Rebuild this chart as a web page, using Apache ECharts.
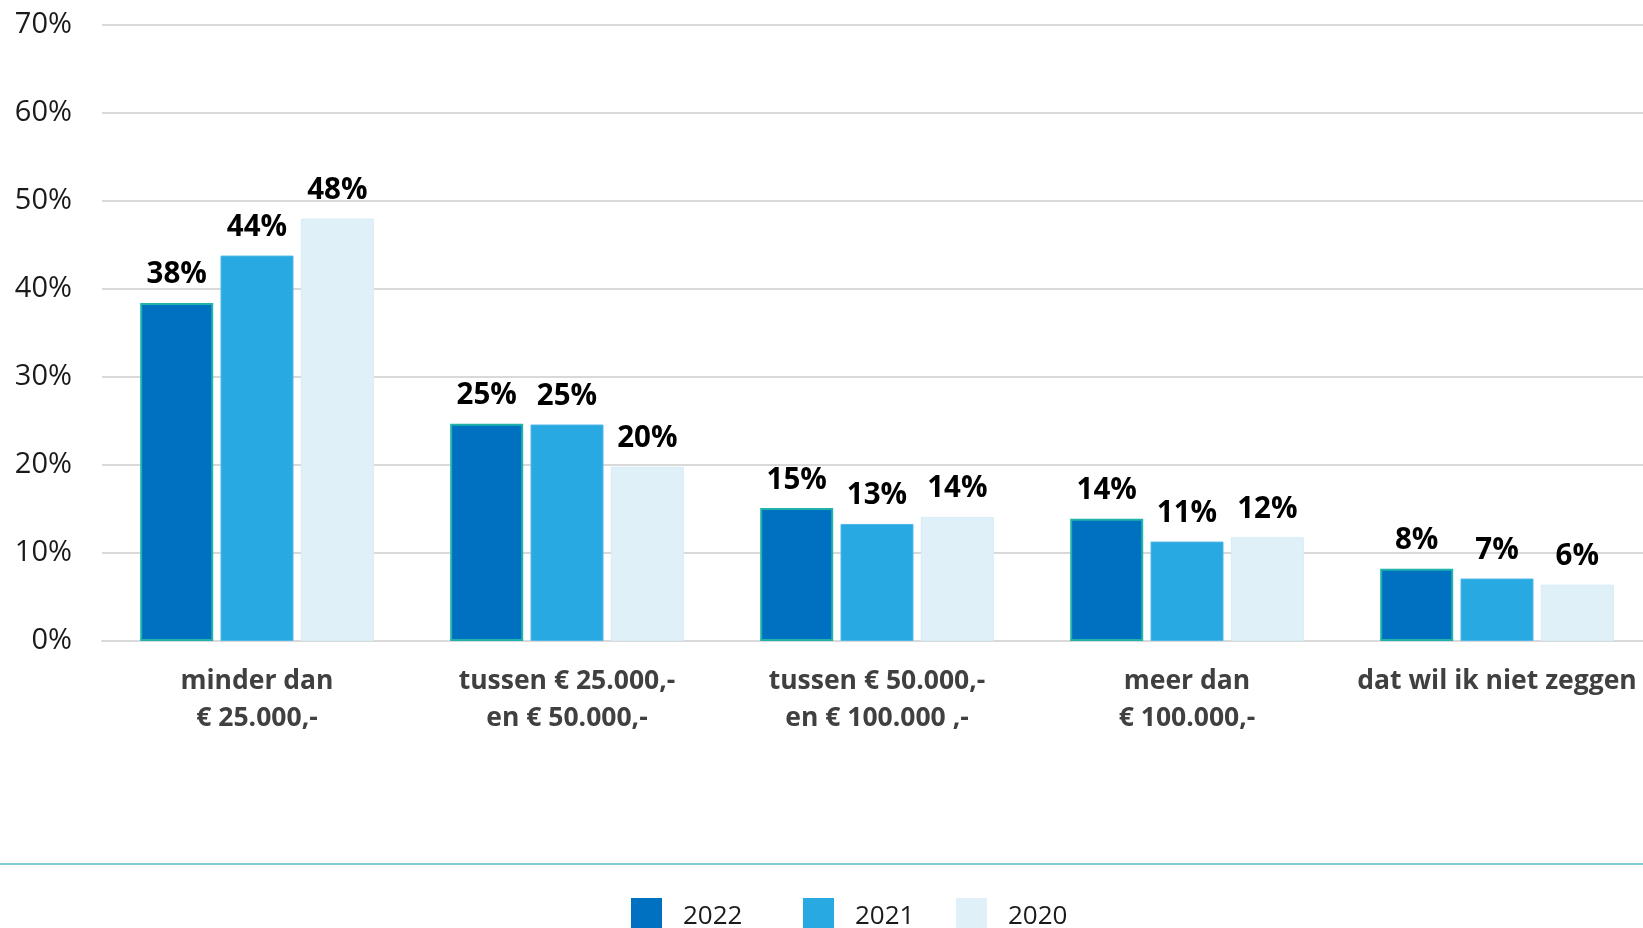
<!DOCTYPE html>
<html>
<head>
<meta charset="utf-8">
<script src="https://cdn.jsdelivr.net/npm/echarts@6/dist/echarts.min.js"></script>
<style>html,body{margin:0;padding:0;background:#fff;}#c{width:1643px;height:928px;}</style>
</head>
<body>
<div id="c"></div>
<script>
const categories = ['minder dan\n€ 25.000,-', 'tussen € 25.000,-\nen € 50.000,-', 'tussen € 50.000,-\nen € 100.000 ,-', 'meer dan\n€ 100.000,-', 'dat wil ik niet zeggen'];
const years = ['2022', '2021', '2020'];
const v2022 = [38.4, 24.7, 15.1, 13.9, 8.2];
const v2021 = [43.8, 24.6, 13.3, 11.3, 7.1];
const v2020 = [48.0, 19.8, 14.1, 11.8, 6.4];
const yTicks = [0, 10, 20, 30, 40, 50, 60, 70];

const FONT = '"Open Sans", "Noto Sans", sans-serif';
const colors = ['#0070c0', '#29a9e1', '#dff0f8'];
const borders = ['#1fb3aa', '#4fb8e8', '#d6ecf6'];
const values = [v2022, v2021, v2020];

const chart = echarts.init(document.getElementById('c'), null, {renderer: 'canvas'});
const legendLeft = [626, 798, 951];

chart.setOption({
  animation: false,
  backgroundColor: '#ffffff',
  textStyle: {fontFamily: FONT},
  grid: {left: 102, right: -9, top: 25, bottom: 287, containLabel: false, outerBoundsMode: 'none'},
  legend: years.map((y, i) => ({
    data: [y],
    left: legendLeft[i],
    top: 893,
    itemWidth: 31,
    itemHeight: 31,
    icon: 'rect',
    itemStyle: {borderWidth: 0},
    formatter: '{t|{name}}',
    textStyle: {
      fontFamily: FONT, fontSize: 26, color: '#1a1a1a',
      rich: {t: {fontFamily: FONT, fontSize: 26, color: '#1a1a1a', padding: [7, 0, 0, 16]}}
    }
  })),
  xAxis: {
    type: 'category',
    data: categories,
    axisTick: {show: false},
    axisLine: {lineStyle: {color: '#d9d9d9', width: 2}},
    axisLabel: {interval: 0, margin: 22, fontFamily: FONT, fontSize: 26.5, fontWeight: 'bold', color: '#404040', lineHeight: 37}
  },
  yAxis: {
    type: 'value',
    min: yTicks[0],
    max: yTicks[yTicks.length - 1],
    interval: 10,
    axisLine: {show: false},
    axisTick: {show: false},
    splitLine: {lineStyle: {color: '#d9d9d9', width: 2}},
    axisLabel: {margin: 30, fontFamily: FONT, fontSize: 29, color: '#1a1a1a', formatter: v => v + '%'}
  },
  graphic: [{
    type: 'line',
    shape: {x1: 0, y1: 864, x2: 1643, y2: 864},
    style: {stroke: '#7fcfd2', lineWidth: 2}
  }],
  series: years.map((y, i) => ({
    name: y,
    type: 'bar',
    data: values[i],
    barWidth: 73,
    barGap: '10%',
    itemStyle: {color: colors[i], borderColor: borders[i], borderWidth: i === 0 ? 2 : 1},
    label: {
      show: true,
      position: 'top',
      distance: 13,
      fontFamily: FONT,
      fontSize: 29.5,
      fontWeight: 'bold',
      color: '#000000',
      formatter: p => Math.round(p.value) + '%'
    }
  }))
});
</script>
</body>
</html>
